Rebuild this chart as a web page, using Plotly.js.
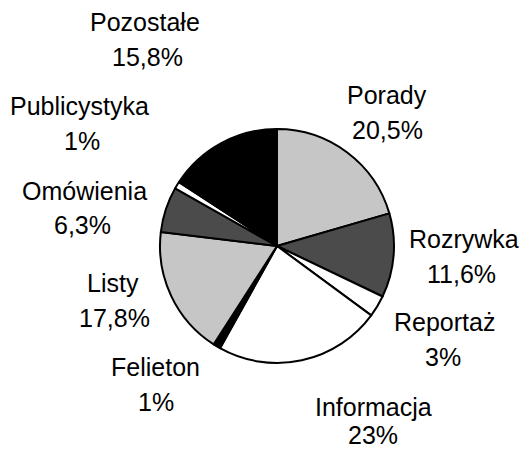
<!DOCTYPE html>
<html>
<head>
<meta charset="utf-8">
<script src="https://cdn.plot.ly/plotly-3.0.1.min.js"></script>
<style>html,body{margin:0;padding:0;background:#fff;}#chart{width:530px;height:451px;}</style>
</head>
<body>
<div id="chart"></div>
<script>
// Data (clockwise from 12 o'clock)
const categories = ["Porady", "Rozrywka", "Reportaż", "Informacja", "Felieton", "Listy", "Omówienia", "Publicystyka", "Pozostałe"];
const values = [20.5, 11.6, 3, 23, 1, 17.8, 6.3, 1, 15.8];
const valueLabels = ["20,5%", "11,6%", "3%", "23%", "1%", "17,8%", "6,3%", "1%", "15,8%"];

// Styling
const sliceColors = ["#c6c6c6", "#4b4b4b", "#ffffff", "#ffffff", "#000000", "#c6c6c6", "#4b4b4b", "#ffffff", "#000000"];
// label positions in pixels (centre of name line, centre of value line)
const labelPos = [
  [387, 95, 387, 130],
  [464, 239, 461, 274],
  [444, 322, 443, 357],
  [373, 407, 373, 435],
  [155, 367, 156, 402],
  [113, 283, 114, 318],
  [84, 191, 82, 225],
  [79, 106, 82, 141],
  [145, 22, 147, 57]
];

const W = 530, H = 451;
const cx = 277, cy = 246, r = 117;

const font = {family: "Liberation Sans, Arial, sans-serif", size: 25, color: "#000"};
const annotations = [];
categories.forEach((c, i) => {
  const p = labelPos[i];
  annotations.push({text: c, x: p[0] / W, y: 1 - p[1] / H, xref: "paper", yref: "paper",
    xanchor: "center", yanchor: "middle", showarrow: false, font: font});
  annotations.push({text: valueLabels[i], x: p[2] / W, y: 1 - p[3] / H, xref: "paper", yref: "paper",
    xanchor: "center", yanchor: "middle", showarrow: false, font: font});
});

const trace = {
  type: "pie",
  labels: categories,
  values: values,
  sort: false,
  direction: "clockwise",
  rotation: 0,
  textinfo: "none",
  hoverinfo: "skip",
  marker: {colors: sliceColors, line: {color: "#000", width: 2}},
  domain: {x: [(cx - r) / W, (cx + r) / W], y: [1 - (cy + r) / H, 1 - (cy - r) / H]},
  showlegend: false
};

Plotly.newPlot("chart", [trace], {
  width: W, height: H,
  margin: {l: 0, r: 0, t: 0, b: 0},
  paper_bgcolor: "#fff",
  showlegend: false,
  annotations: annotations
}, {staticPlot: true});
</script>
</body>
</html>
